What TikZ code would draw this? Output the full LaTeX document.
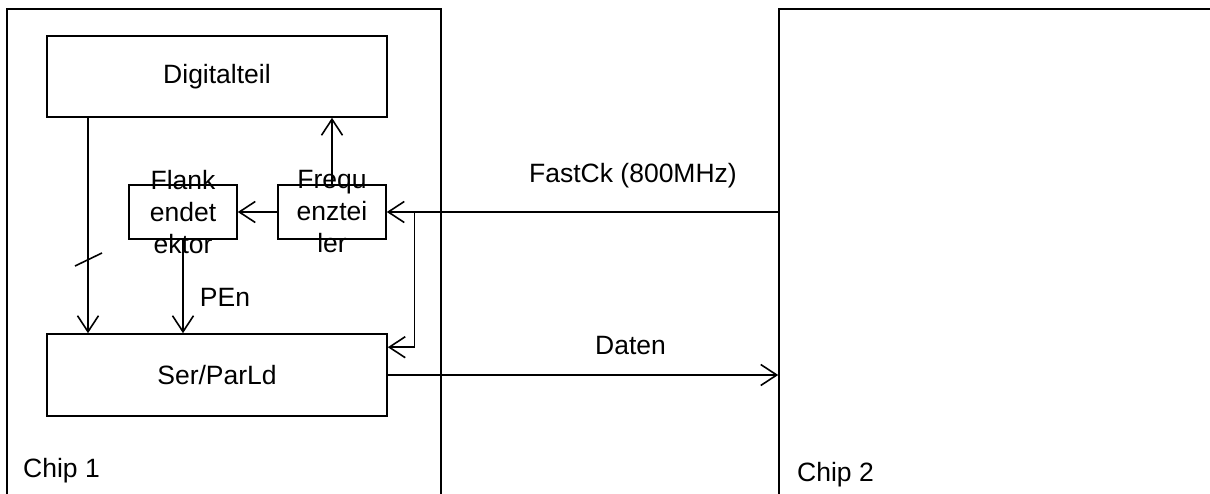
\documentclass[tikz,border=0pt]{standalone}
\usepackage{fontspec}
\setmainfont{Liberation Sans}
\usetikzlibrary{arrows.meta}
\tikzset{
  every node/.style={font=\fontsize{26.5}{32}\selectfont},
  blk/.style={draw, line width=1.6pt, inner sep=0pt, rectangle},
  wire/.style={line width=1.6pt},
  arr/.style={wire, -{Straight Barb[length=16pt,width=21pt,line width=1.6pt]}},
  txt/.style={inner sep=0pt}
}
\begin{document}
\begin{tikzpicture}[x=1pt,y=-1pt]
\useasboundingbox (0,0) rectangle (1210,494);
% chips
\node[blk, minimum width=434pt, minimum height=560pt] (chip1) at (224,289) {};
\node[blk, minimum width=440pt, minimum height=560pt] (chip2) at (999,289) {};
\node[txt, anchor=base west] (c1lab) at (23,477) {Chip 1};
\node[txt, anchor=base west] (c2lab) at (797,481) {Chip 2};
% blocks
\node[blk, minimum width=340pt, minimum height=81pt] (dig) at (217,76.5) {Digitalteil};
\node[blk, minimum width=108pt, minimum height=54pt,
      label={[align=center,inner sep=0pt]center:Flank\\endet\\ektor}] (flank) at (183,212) {};
\node[blk, minimum width=108pt, minimum height=54pt,
      label={[align=center,inner sep=0pt]center:Frequ\\enztei\\ler}] (freq) at (332,212) {};
\node[blk, minimum width=340pt, minimum height=82pt] (ser) at (217,375) {Ser/ParLd};
% coordinates
\coordinate (br) at ([xshift=27.5pt]freq.east);
\coordinate (sin) at ([yshift=-14pt]ser.north east);
\coordinate (dsrc) at ([xshift=-129pt]dig.south);
% connectors
\draw[arr] (freq.north) -- (freq.north |- dig.south);
\draw[arr] (freq.west) -- (flank.east);
\draw[arr] (freq.east -| chip2.west) -- (freq.east);
\draw[arr] (br) |- (sin);
\draw[arr] (dsrc) -- (dsrc |- ser.north);
\draw[wire] (75,266) -- (102,253);
\draw[arr] (flank.south) -- (flank.south |- ser.north);
\draw[arr] (ser.east) -- (ser.east -| chip2.west);
% labels
\node[txt] (fastck) at (633,176) {FastCk (800MHz)};
\node[txt] (daten) at (630.5,346) {Daten};
\node[txt] (pen) at (225,297) {PEn};
\end{tikzpicture}
\end{document}
